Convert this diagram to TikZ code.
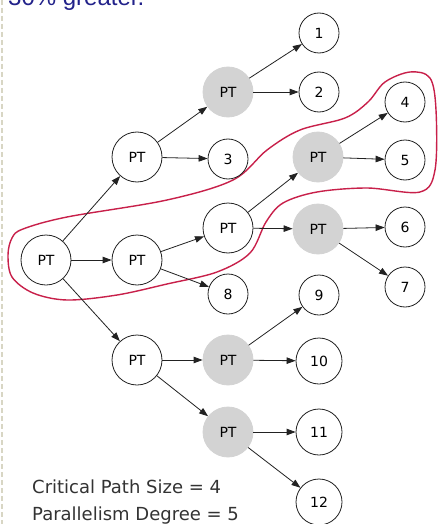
\documentclass[tikz,border=0pt]{standalone}
\usepackage{fontspec}
\setmainfont{DejaVu Sans}
\newfontfamily\arialfont{Liberation Sans}
\usetikzlibrary{arrows.meta}
\definecolor{edgec}{HTML}{222222}
\definecolor{grayfill}{HTML}{D3D3D3}
\definecolor{loopc}{HTML}{C8204A}
\definecolor{titlec}{HTML}{22228A}
\definecolor{dashc}{HTML}{D8D6C4}
\definecolor{textc}{HTML}{333333}
\tikzset{
  pt/.style={circle, draw=edgec, line width=0.8pt, minimum size=50pt, inner sep=0pt, font=\fontsize{14}{14}\selectfont, fill=white},
  ptg/.style={circle, fill=grayfill, draw=grayfill, line width=0.8pt, minimum size=50pt, inner sep=0pt, font=\fontsize{14}{14}\selectfont},
  num/.style={circle, draw=edgec, line width=0.8pt, minimum size=40pt, inner sep=0pt, font=\fontsize{14}{14}\selectfont, fill=white},
  numw/.style={num, minimum size=46pt},
  arr/.style={draw=edgec, line width=0.8pt, -{Triangle[length=9pt,width=6.5pt]}},
}
\begin{document}
\begin{tikzpicture}[x=1pt,y=-1pt]
\useasboundingbox (0,0) rectangle (443,524);
\clip (0,0) rectangle (443,524);
\fill[white] (0,0) rectangle (443,524);
% left dashed border
\draw[dashc, line width=2pt, dash pattern=on 5pt off 3pt] (1.5,0) -- (1.5,524);
% cut-off title text
\node[anchor=base west, inner sep=0pt, text=titlec, font=\arialfont\fontsize{24}{24}\selectfont] (title) at (8,6) {30\% greater.};
% red contour
\draw[loopc, line width=1.4pt] plot[smooth cycle, tension=0.55] coordinates {
 (23,229) (67,217) (167,200) (233,180) (267,150) (300,130) (345,118) (368,102)
 (385,82) (410,72) (430,78) (436,110) (435,170) (420,192) (367,188) (317,192)
 (283,203) (266,222) (250,253) (217,272) (167,284) (117,295) (67,300) (33,293) (12,277) (8,255) (12,238)};
% nodes
\node[pt]  (r)   at (46,260) {PT};
\node[pt]  (a)   at (137,157) {PT};
\node[pt]  (b)   at (137,260) {PT};
\node[pt]  (c)   at (137,360) {PT};
\node[ptg] (ga)  at (228,92) {PT};
\node[pt]  (b2)  at (228,228) {PT};
\node[ptg] (gr1) at (318,157) {PT};
\node[ptg] (gr2) at (318,229) {PT};
\node[ptg] (gc1) at (228,360) {PT};
\node[ptg] (gc2) at (228,432) {PT};
\node[num] (n1) at (319,33) {1};
\node[num] (n2) at (319,92) {2};
\node[num] (n3) at (228,159) {3};
\node[num] (n4) at (405,102) {4};
\node[num] (n5) at (405,160) {5};
\node[num] (n6) at (405,227) {6};
\node[num] (n7) at (405,287) {7};
\node[num] (n8) at (228,294) {8};
\node[num] (n9) at (319,295) {9};
\node[numw] (n10) at (319,361) {10};
\node[numw] (n11) at (319,432) {11};
\node[numw] (n12) at (319,502) {12};
% edges
\draw[arr] (r) -- (a);
\draw[arr] (r) -- (b);
\draw[arr] (r) -- (c);
\draw[arr] (a) -- (ga);
\draw[arr] (a) -- (n3);
\draw[arr] (ga) -- (n1);
\draw[arr] (ga) -- (n2);
\draw[arr] (b) -- (b2);
\draw[arr] (b) -- (n8);
\draw[arr] (b2) -- (gr1);
\draw[arr] (b2) -- (gr2);
\draw[arr] (gr1) -- (n4);
\draw[arr] (gr1) -- (n5);
\draw[arr] (gr2) -- (n6);
\draw[arr] (gr2) -- (n7);
\draw[arr] (c) -- (gc1);
\draw[arr] (c) -- (gc2);
\draw[arr] (gc1) -- (n9);
\draw[arr] (gc1) -- (n10);
\draw[arr] (gc2) -- (n11);
\draw[arr] (gc2) -- (n12);
% caption
\node[anchor=base west, inner sep=0pt, text=textc, font=\fontsize{18}{18}\selectfont] (cp) at (32,493) {Critical Path Size = 4};
\node[anchor=base west, inner sep=0pt, text=textc, font=\fontsize{18}{18}\selectfont] (pd) at (32,520) {Parallelism Degree = 5};
\end{tikzpicture}
\end{document}
